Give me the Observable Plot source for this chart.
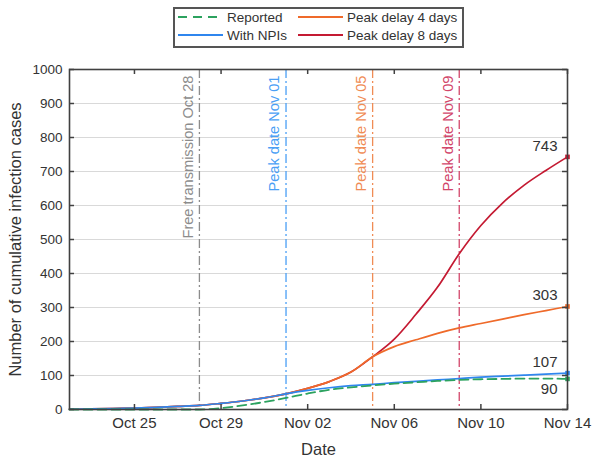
<!DOCTYPE html>
<html>
<head>
<meta charset="utf-8">
<script src="https://cdn.jsdelivr.net/npm/d3@7"></script>
<script src="https://cdn.jsdelivr.net/npm/@observablehq/plot@0.6"></script>
<style>
  html, body { margin: 0; padding: 0; background: #fff; }
  #wrap { position: relative; width: 595px; height: 457px; font-family: "Liberation Sans", Arial, sans-serif; }
  #legend { position: absolute; left: 173px; top: 7px; width: 287px; height: 37px; border: 2px solid #555; background: #fff; }
  #legend svg { position: absolute; left: 0; top: 0; }
</style>
</head>
<body>
<div id="wrap"><div id="chart"></div><div id="legend"></div></div>
<script>
const dates = ["2020-10-22","2020-10-23","2020-10-24","2020-10-25","2020-10-26","2020-10-27","2020-10-28","2020-10-29",
  "2020-10-30","2020-10-31","2020-11-01","2020-11-02","2020-11-03","2020-11-04","2020-11-05","2020-11-06",
  "2020-11-07","2020-11-08","2020-11-09","2020-11-10","2020-11-11","2020-11-12","2020-11-13","2020-11-14"];

const reported = [0,0,0,0,0,0,0,4,12,22,34,47,58,65,71,76,80,84,87,89,90,91,91,90];
const withNPIs = [1,2,3,4,6,9,12,18,25,34,46,56,64,70,74,79,83,87,91,95,98,101,104,107];
const delay4   = [1,2,3,4,6,9,12,18,25,34,46,62,82,110,155,185,205,224,240,253,266,279,291,303];
const delay8   = [1,2,3,4,6,9,12,18,25,34,46,62,82,110,155,207,280,360,458,541,607,660,703,743];

const seriesNames = ["Reported","With NPIs","Peak delay 4 days","Peak delay 8 days"];
const seriesColors = ["#2ca25f","#2f86ee","#ef6a2a","#c41a32"];

const eventDates = ["2020-10-28","2020-11-01","2020-11-05","2020-11-09"];
const eventLabels = ["Free transmission Oct 28","Peak date Nov 01","Peak date Nov 05","Peak date Nov 09"];
const eventColors = ["#8c8c8c","#4a9ff5","#f08c55","#d2466a"];

const xTickDates = ["2020-10-25","2020-10-29","2020-11-02","2020-11-06","2020-11-10","2020-11-14"];
const yTicks = [0,100,200,300,400,500,600,700,800,900,1000];

const endLabels = ["90","107","303","743"];

const parse = d3.utcParse("%Y-%m-%d");
const allSeries = [reported, withNPIs, delay4, delay8];
const rows = [];
allSeries.forEach((vals, s) => vals.forEach((v, i) => rows.push({date: parse(dates[i]), value: v, series: seriesNames[s]})));
const lineRows = s => rows.filter(r => r.series === seriesNames[s]);
const ends = allSeries.map((vals, s) => ({date: parse(dates[dates.length-1]), value: vals[vals.length-1], series: seriesNames[s], color: seriesColors[s], label: endLabels[s]}));
const events = eventDates.map((d, i) => ({date: parse(d), label: eventLabels[i], color: eventColors[i]}));
const xTicks = xTickDates.map(parse);

const W = 595, H = 457, mL = 69, mR = 28, mT = 69, mB = 48;
const innerH = H - mT - mB, innerW = W - mL - mR;
const tickLen = 5;
const ink = "#333333";

const plot = Plot.plot({
  width: W, height: H,
  marginLeft: mL, marginRight: mR, marginTop: mT, marginBottom: mB,
  style: {fontFamily: "Liberation Sans, Arial, sans-serif", fontSize: "14px", color: ink, background: "#fff"},
  x: {type: "utc", domain: [parse(dates[0]), parse(dates[dates.length-1])]},
  y: {domain: [0, 1000]},
  marks: [
    Plot.gridY(yTicks, {stroke: "#d9d9d9", strokeOpacity: 1, strokeWidth: 1}),
    Plot.ruleX(events, {x: "date", stroke: "color", strokeWidth: 1.3, strokeDasharray: "9,3,2,3"}),
    Plot.text(events, {x: "date", text: "label", fill: "color", frameAnchor: "top", rotate: -90, textAnchor: "end", dx: -17, dy: 6, fontSize: 14.6}),
    ...[3,2,1].map(s => Plot.line(lineRows(s), {x: "date", y: "value", stroke: seriesColors[s], strokeWidth: 1.7, curve: "monotone-x"})),
    Plot.line(lineRows(0), {x: "date", y: "value", stroke: seriesColors[0], strokeWidth: 1.8, strokeDasharray: "9,5", curve: "monotone-x"}),
    Plot.dot(ends, {x: "date", y: "value", fill: "color", symbol: "square", r: 2.6}),
    Plot.text(ends.filter(d => d.series !== "Reported"), {x: "date", y: "value", text: "label", textAnchor: "end", dx: -10, dy: -11, fill: ink, fontSize: 15}),
    Plot.text(ends.filter(d => d.series === "Reported"), {x: "date", y: "value", text: "label", textAnchor: "end", dx: -10, dy: 10, fill: ink, fontSize: 15}),
    // inward ticks, all four sides
    Plot.ruleX(xTicks, {x: d => d, stroke: "#404040", strokeWidth: 1.5, insetTop: innerH - tickLen}),
    Plot.ruleX(xTicks, {x: d => d, stroke: "#404040", strokeWidth: 1.5, insetBottom: innerH - tickLen}),
    Plot.ruleY(yTicks, {y: d => d, stroke: "#404040", strokeWidth: 1.5, insetRight: innerW - tickLen}),
    Plot.ruleY(yTicks, {y: d => d, stroke: "#404040", strokeWidth: 1.5, insetLeft: innerW - tickLen}),
    Plot.axisX(xTicks, {tickSize: 0, tickPadding: 8, tickFormat: d3.utcFormat("%b %d"), fontSize: 15, label: null, fill: ink}),
    Plot.axisX({label: "Date", ticks: [], labelAnchor: "center", labelOffset: 45, labelArrow: "none", fontSize: 16.5, fill: ink}),
    Plot.axisY(yTicks, {tickSize: 0, tickPadding: 7, tickFormat: d3.format("d"), fontSize: 13.5, label: null, fill: ink}),
    Plot.axisY({label: "Number of cumulative infection cases", ticks: [], labelAnchor: "center", labelOffset: 60, labelArrow: "none", fontSize: 16.5, fill: ink}),
    Plot.frame({stroke: "#404040", strokeWidth: 1.6})
  ]
});
document.getElementById("chart").appendChild(plot);

// legend
const lg = d3.select("#legend").append("svg").attr("width", 287).attr("height", 37)
  .style("font-family", "Liberation Sans, Arial, sans-serif").style("font-size", "13.5px");
const legendPos = [[3, 8], [3, 26], [123, 8], [123, 26]];
seriesNames.forEach((name, s) => {
  const [x, y] = legendPos[s];
  lg.append("line").attr("x1", x).attr("x2", x + 45).attr("y1", y).attr("y2", y)
    .attr("stroke", seriesColors[s]).attr("stroke-width", 1.8)
    .attr("stroke-dasharray", s === 0 ? "9,6" : null);
  lg.append("text").attr("x", x + 49).attr("y", y).attr("dy", "0.35em").attr("fill", ink).text(name);
});
</script>
</body>
</html>
